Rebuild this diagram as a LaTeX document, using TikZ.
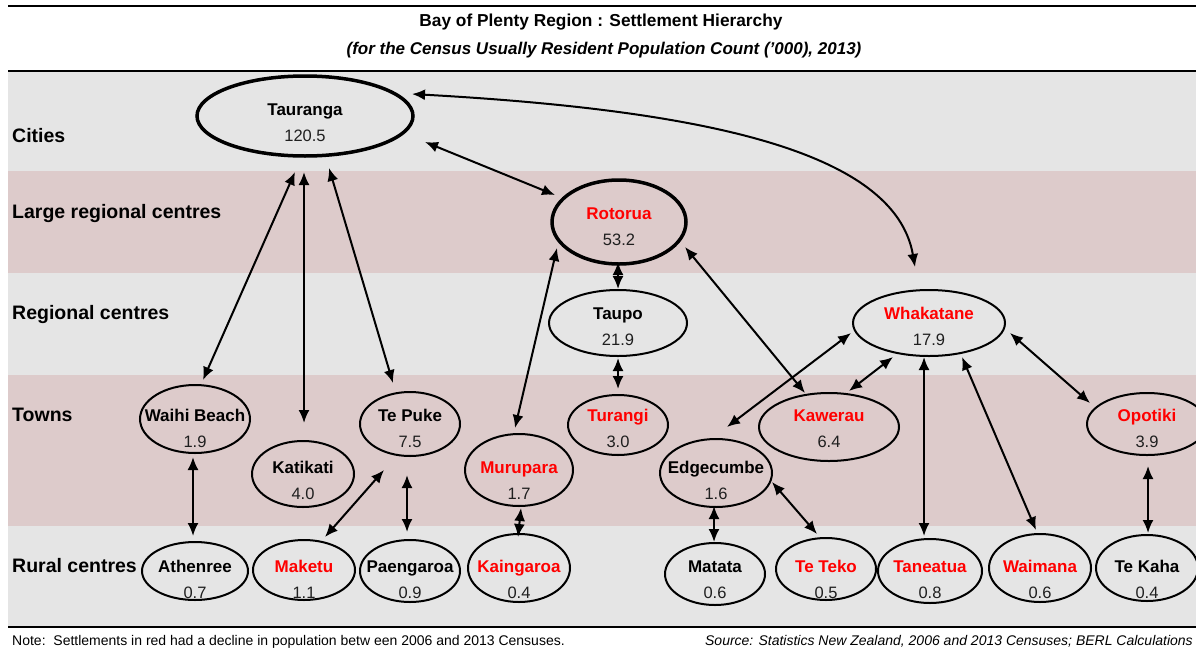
\documentclass[tikz,border=0pt]{standalone}
\usepackage{fontspec}
\setmainfont{Liberation Sans}
\usetikzlibrary{shapes.geometric,arrows.meta,calc}
\definecolor{bandgray}{RGB}{229,229,229}
\definecolor{bandpink}{RGB}{221,203,203}
\definecolor{nred}{RGB}{255,0,0}
\tikzset{
  ell/.style={ellipse, draw=black, line width=2pt, inner sep=0pt, outer sep=0pt},
  ellthick/.style={line width=3.5pt},
  nm/.style={font=\fontsize{17}{20}\selectfont\bfseries, inner sep=0pt, anchor=base},
  val/.style={font=\fontsize{16.5}{20}\selectfont, inner sep=0pt, anchor=base, text=black!88},
  rowlbl/.style={font=\fontsize{19.5}{23}\selectfont\bfseries, anchor=base west, inner sep=0pt},
  conn/.style={line width=2pt, {Latex[length=13pt,width=11pt]}-{Latex[length=13pt,width=11pt]}},
  rulestyle/.style={line width=2.5pt},
  titlestyle/.style={font=\fontsize{17.3}{20}\selectfont\bfseries, anchor=base, inner sep=0pt},
  substyle/.style={font=\fontsize{17}{20}\selectfont\bfseries\itshape, anchor=base, inner sep=0pt},
  notestyle/.style={font=\fontsize{14}{16}\selectfont, inner sep=0pt},
}
% #1 name, #2 centre, #3 width, #4 height, #5 extra style, #6 text colour, #7 label, #8 value, #9 label offset
\newcommand\settle[9]{%
  \node[ell, minimum width=#3, minimum height=#4, #5] (#1) at (#2) {};
  \node[nm, text=#6] (#1-name) at ($(#1)+(0,#9+6)$) {#7};
  \node[val] (#1-val) at ($(#1)+(0,#9+32)$) {#8};
}
\begin{document}
\begin{tikzpicture}[x=1pt,y=-1pt]
\useasboundingbox (0,0) rectangle (1196,648);
\fill[white] (0,0) rectangle (1196,648);
% bands
\fill[bandgray] (8,72) rectangle (1196,171);
\fill[bandpink] (8,171) rectangle (1196,273);
\fill[bandgray] (8,273) rectangle (1196,375);
\fill[bandpink] (8,375) rectangle (1196,526);
\fill[bandgray] (8,526) rectangle (1196,627);
% rules
\draw[rulestyle] (8,6) -- (1196,6);
\draw[rulestyle] (8,71) -- (1196,71);
\draw[rulestyle] (8,627) -- (1196,627);
% titles
\node[titlestyle] (title) at (601,26) {Bay of Plenty Region : Settlement Hierarchy};
\node[substyle] (subtitle) at (604,54) {(for the Census Usually Resident Population Count ('000), 2013)};
% row labels
\node[rowlbl] (rcities) at (12,142) {Cities};
\node[rowlbl] (rlarge) at (12,218) {Large regional centres};
\node[rowlbl] (rregional) at (12,319) {Regional centres};
\node[rowlbl] (rtowns) at (12,421) {Towns};
\node[rowlbl] (rrural) at (12,572) {Rural centres};
% settlements
\settle{tauranga}{305,116}{216}{80}{ellthick}{black}{Tauranga}{120.5}{-7}
\settle{rotorua}{619,222}{134}{84}{ellthick}{nred}{Rotorua}{53.2}{-9}
\settle{taupo}{618,323}{138}{66}{}{black}{Taupo}{21.9}{-10}
\settle{whakatane}{929,323}{152}{66}{}{nred}{Whakatane}{17.9}{-10}
\settle{waihi}{195,419}{110}{68}{}{black}{Waihi Beach}{1.9}{-4}
\settle{katikati}{303,474}{102}{66}{}{black}{Katikati}{4.0}{-7}
\settle{tepuke}{410,424}{100}{64}{}{black}{Te Puke}{7.5}{-9}
\settle{murupara}{519,470}{108}{72}{}{nred}{Murupara}{1.7}{-3}
\settle{turangi}{618,425}{100}{60}{}{nred}{Turangi}{3.0}{-10}
\settle{edgecumbe}{716,473}{112}{68}{}{black}{Edgecumbe}{1.6}{-6}
\settle{kawerau}{829,427}{140}{68}{}{nred}{Kawerau}{6.4}{-12}
\settle{opotiki}{1147,424}{120}{62}{}{nred}{Opotiki}{3.9}{-9}
\settle{athenree}{195,571}{106}{58}{}{black}{Athenree}{0.7}{-5}
\settle{maketu}{304,570}{102}{60}{}{nred}{Maketu}{1.1}{-4}
\settle{paengaroa}{410,571}{100}{62}{}{black}{Paengaroa}{0.9}{-5}
\settle{kaingaroa}{519,568}{102}{68}{}{nred}{Kaingaroa}{0.4}{-2}
\settle{matata}{715,574}{100}{62}{}{black}{Matata}{0.6}{-8}
\settle{teteko}{826,569}{100}{62}{}{nred}{Te Teko}{0.5}{-3}
\settle{taneatua}{930,571}{104}{64}{}{nred}{Taneatua}{0.8}{-5}
\settle{waimana}{1040,568}{102}{68}{}{nred}{Waimana}{0.6}{-2}
\settle{tekaha}{1147,568}{102}{66}{}{black}{Te Kaha}{0.4}{-2}
% connectors
\draw[conn] ($(tauranga)+(107,-22)$) .. controls (700,110) and (895,150) .. ($(whakatane)+(-14,-56)$);
\draw[conn] ($(tauranga)+(120,26)$) -- ($(rotorua)+(-64,-27)$);
\draw[conn] ($(tauranga)+(-10,56)$) -- ($(waihi)+(8,-39)$);
\draw[conn] ($(tauranga)+(-1,56)$) -- ($(katikati)+(1,-51)$);
\draw[conn] ($(tauranga)+(24,52)$) -- ($(tepuke)+(-17,-41)$);
\draw[conn] ($(rotorua)+(-1,40)$) -- ($(taupo)+(0,-34)$);
\draw[conn] ($(taupo)+(0,35)$) -- ($(turangi)+(0,-36)$);
\draw[conn] ($(rotorua)+(-62,26)$) -- ($(murupara)+(-4,-42)$);
\draw[conn] ($(rotorua)+(66,25)$) -- ($(kawerau)+(-24,-34)$);
\draw[conn] ($(whakatane)+(-36,34)$) -- ($(kawerau)+(20,-36)$);
\draw[conn] ($(whakatane)+(-78,10)$) -- ($(edgecumbe)+(11,-46)$);
\draw[conn] ($(whakatane)+(-5,34)$) -- ($(taneatua)+(-6,-35)$);
\draw[conn] ($(whakatane)+(33,34)$) -- ($(waimana)+(-4,-38)$);
\draw[conn] ($(whakatane)+(81,10)$) -- ($(opotiki)+(-57,-21)$);
\draw[conn] ($(opotiki)+(1,42)$) -- ($(tekaha)+(1,-35)$);
\draw[conn] ($(edgecumbe)+(-2,33)$) -- ($(matata)+(-1,-32)$);
\draw[conn] ($(edgecumbe)+(56,9)$) -- ($(teteko)+(-9,-35)$);
\draw[conn] ($(waihi)+(-2,38)$) -- ($(athenree)+(-2,-35)$);
\draw[conn] ($(tepuke)+(-26,46)$) -- ($(maketu)+(21,-33)$);
\draw[conn] ($(tepuke)+(-3,51)$) -- ($(paengaroa)+(-3,-39)$);
\draw[conn] ($(murupara)+(2,38)$) -- ($(kaingaroa)+(-1,-31)$);
% notes
\node[notestyle, anchor=base west] (note) at (12,645) {Note:\ \ Settlements in red had a decline in population betw een 2006 and 2013 Censuses.};
\node[notestyle, anchor=base east] (source) at (1193,645) {\itshape Source: Statistics New Zealand, 2006 and 2013 Censuses; BERL Calculations};
\end{tikzpicture}
\end{document}
